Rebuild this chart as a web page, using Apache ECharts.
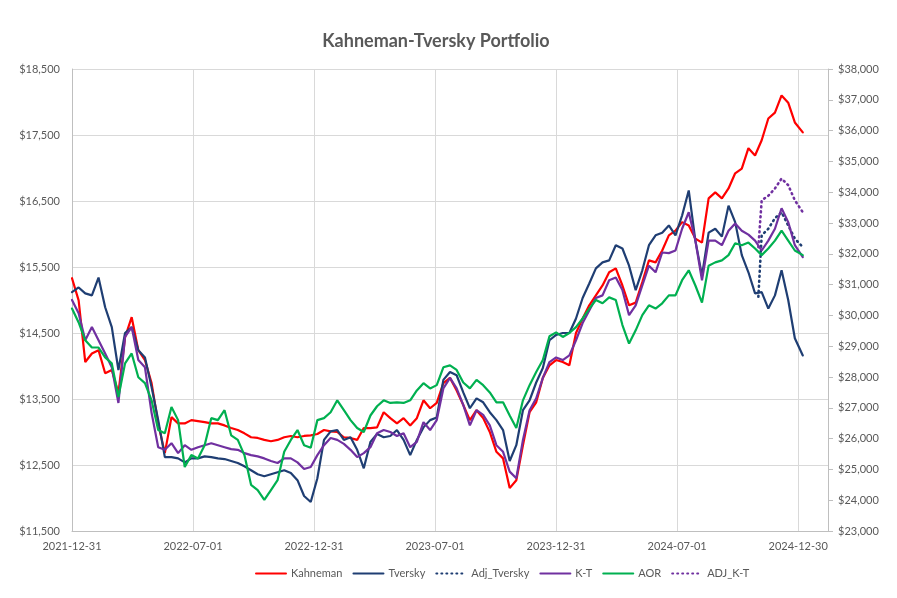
<!DOCTYPE html>
<html>
<head>
<meta charset="utf-8">
<script src="https://cdn.jsdelivr.net/npm/echarts@6/dist/echarts.min.js"></script>
<style>
  html, body { margin: 0; padding: 0; background: #fff; }
  #main { width: 897px; height: 598px; }
</style>
</head>
<body>
<div id="main"></div>
<script>
// x tick labels, one every half year (days from 2021-12-31)
var xLabels = ['2021-12-31', '2022-07-01', '2022-12-31', '2023-07-01', '2023-12-31', '2024-07-01', '2024-12-30'];

// sample days: every 10 days, last point early Jan 2025
var days = [];
for (var d = 0; d <= 1090; d += 10) days.push(d);
days.push(1102);

var kahneman = [15330,14995,14060,14190,14240,13890,13940,13590,14435,14740,
  14240,14090,13740,13130,12680,13225,13130,13130,13180,13165,
  13150,13130,13130,13100,13060,13030,12980,12920,12910,12880,
  12860,12880,12920,12940,12920,12940,12950,12970,13030,13010,
  13000,12920,12910,12880,13060,13060,13070,13300,13210,13130,
  13210,13100,13210,13480,13360,13440,13740,13820,13630,13410,
  13180,13330,13210,13000,12700,12600,12150,12270,12800,13300,
  13450,13820,14010,14090,14060,14010,14500,14720,14920,15070,
  15220,15420,15480,15220,14920,14960,15270,15600,15570,15750,
  15980,16050,16180,16130,15930,15870,16540,16630,16540,16690,
  16920,16990,17300,17190,17420,17750,17840,18100,17990,17690,
  17540];

var tversky = [15120,15190,15100,15070,15340,14890,14590,13940,14500,14590,
  14240,14130,13680,13180,12620,12620,12600,12540,12600,12600,
  12630,12620,12600,12590,12560,12530,12480,12420,12360,12330,
  12360,12390,12420,12380,12270,12030,11940,12300,12880,13010,
  13030,12880,12920,12730,12450,12850,12970,12920,12940,13030,
  12880,12650,12880,13070,13180,13220,13790,13910,13860,13600,
  13360,13510,13450,13300,13180,13030,12560,12800,13330,13480,
  13750,13970,14390,14470,14500,14500,14720,15030,15250,15480,
  15570,15600,15830,15780,15520,15150,15450,15830,15980,16020,
  16130,15980,16280,16660,15900,15370,16020,16080,15960,16430,
  16180,15680,15420,15100,15120,14870,15070,15450,15000,14420,
  14160];

var kt = [15000,14800,14390,14590,14390,14190,13980,13440,14440,14590,
  14090,13980,13290,12770,12730,12830,12680,12800,12730,12770,
  12800,12830,12800,12770,12740,12730,12680,12650,12630,12600,
  12560,12530,12600,12600,12540,12440,12470,12650,12800,12910,
  12880,12820,12730,12620,12680,12770,12980,13030,13000,12940,
  12980,12770,12850,13150,13030,13180,13660,13820,13660,13410,
  13100,13330,13260,13100,12800,12700,12400,12300,12880,13330,
  13510,13820,14060,14130,14090,14160,14390,14650,14840,15030,
  15070,15300,15340,15150,14770,14920,15220,15520,15420,15720,
  15710,15750,16080,16330,15900,15300,15900,15900,15830,16050,
  16160,16050,15990,15900,15750,15900,16080,16390,16180,15830,
  15650];

var aor = [14870,14660,14390,14280,14280,14130,14040,13530,14040,14190,
  13830,13740,13480,13030,12980,13380,13180,12470,12650,12600,
  12800,13210,13180,13330,12950,12880,12650,12200,12120,11970,
  12120,12270,12700,12880,13030,12800,12760,13180,13210,13300,
  13480,13330,13180,13060,13000,13250,13390,13480,13440,13450,
  13440,13480,13630,13740,13660,13710,13980,14010,13940,13750,
  13660,13790,13710,13600,13450,13450,13250,13060,13480,13710,
  13910,14090,14450,14510,14440,14500,14590,14720,14870,15000,
  14950,15040,15000,14620,14340,14540,14770,14920,14870,14950,
  15070,15070,15300,15450,15220,14960,15520,15570,15600,15680,
  15860,15830,15870,15780,15680,15780,15900,16050,15900,15750,
  15680];

// adjusted series only exist at the end
var adjDays = [1035, 1040, 1050, 1060, 1070, 1080, 1090, 1102];
var adjTversky = [15050, 15980, 16080, 16240, 16330, 16130, 15930, 15800];
var adjKT = [15800, 16510, 16580, 16690, 16840, 16740, 16510, 16330];

function pairs(xs, ys) {
  return xs.map(function (x, i) { return [x, ys[i]]; });
}
function money(v) {
  return '$' + Number(v).toLocaleString('en-US');
}

var font = 'Lato, "Noto Sans", sans-serif';
var labelColor = '#595959';

function line(name, xs, ys, color, dotted) {
  return {
    name: name,
    type: 'line',
    symbol: 'none',
    data: pairs(xs, ys),
    lineStyle: { color: color, width: dotted ? 2.6 : 2.2, type: dotted ? [1, 4] : 'solid', cap: 'round' },
    itemStyle: { color: color }
  };
}

var chart = echarts.init(document.getElementById('main'));
chart.setOption({
  animation: false,
  backgroundColor: '#fff',
  title: {
    text: 'Kahneman-Tversky Portfolio',
    left: 431,
    top: 27,
    textAlign: 'center',
    textStyle: { fontFamily: font, fontSize: 18, fontWeight: 'bold', color: labelColor }
  },
  legend: {
    bottom: 14,
    left: 250,
    itemWidth: 30,
    itemHeight: 8,
    itemGap: 10,
    itemStyle: { color: 'transparent', borderWidth: 0 },
    textStyle: { fontFamily: font, fontSize: 11, color: labelColor },
    data: ['Kahneman', 'Tversky', 'Adj_Tversky', 'K-T', 'AOR', 'ADJ_K-T']
  },
  grid: { left: 72, right: 69, top: 69, bottom: 67 },
  xAxis: {
    type: 'value',
    min: 0,
    max: 1140,
    interval: 182.5,
    axisLine: { lineStyle: { color: '#bfbfbf' } },
    axisTick: { show: false },
    splitLine: { show: true, lineStyle: { color: '#d9d9d9' } },
    axisLabel: {
      fontFamily: font, fontSize: 11, color: labelColor, margin: 10,
      showMaxLabel: true,
      formatter: function (v) {
        var i = Math.round(v / 182.5);
        if (Math.abs(v - i * 182.5) > 0.01 || i >= xLabels.length) return '';
        return xLabels[i];
      }
    }
  },
  yAxis: [{
    type: 'value',
    min: 11500,
    max: 18500,
    interval: 1000,
    axisLine: { show: true, lineStyle: { color: '#bfbfbf' } },
    axisTick: { show: false },
    splitLine: { lineStyle: { color: '#d9d9d9' } },
    axisLabel: { fontFamily: font, fontSize: 11, color: labelColor, margin: 12, formatter: money }
  }, {
    type: 'value',
    position: 'right',
    min: 23000,
    max: 38000,
    interval: 1000,
    axisLine: { show: true, lineStyle: { color: '#bfbfbf' } },
    axisTick: { show: true, length: 5, lineStyle: { color: '#bfbfbf' } },
    splitLine: { show: false },
    axisLabel: { fontFamily: font, fontSize: 11, color: labelColor, margin: 10, formatter: money }
  }],
  series: [
    line('Kahneman', days, kahneman, '#ff0000', false),
    line('Tversky', days, tversky, '#1f3e73', false),
    line('Adj_Tversky', adjDays, adjTversky, '#1f3e73', true),
    line('K-T', days, kt, '#7030a0', false),
    line('AOR', days, aor, '#00b050', false),
    line('ADJ_K-T', adjDays, adjKT, '#7030a0', true)
  ]
});
</script>
</body>
</html>
